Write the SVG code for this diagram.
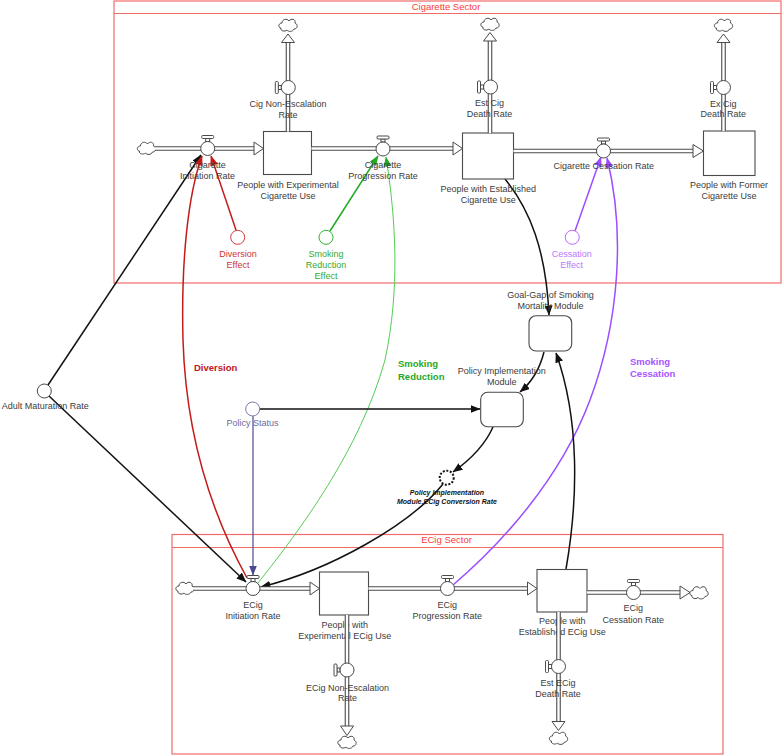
<svg xmlns="http://www.w3.org/2000/svg" width="783" height="756" viewBox="0 0 783 756">
<style>
.lbl{font-family:"Liberation Sans",Arial,sans-serif;font-size:9px;fill:#3c3c3c;text-anchor:middle}
.sec{fill:none;stroke:#f26b6b;stroke-width:1.2}
.sectitle{font-family:"Liberation Sans",Arial,sans-serif;font-size:9.5px;fill:#ff3a3a;text-anchor:middle}
.pipeO{fill:none;stroke:#4a4a4a;stroke-width:4.6}
.pipeI{fill:none;stroke:#fff;stroke-width:2.4}
.parr{fill:#fff;stroke:#4a4a4a;stroke-width:1}
.stock{fill:#fff;stroke:#4a4a4a;stroke-width:1.1}
.module{fill:#fff;stroke:#4a4a4a;stroke-width:1.1}
.cloud{fill:#fff;stroke:#4a4a4a;stroke-width:1}
.vc{fill:#fff;stroke:#4a4a4a;stroke-width:1}
.aux{fill:#fff;stroke:#4a4a4a;stroke-width:1}
.lk{fill:none;stroke:#111;stroke-width:1.5}
.bold{font-family:"Liberation Sans",Arial,sans-serif;font-size:9.5px;font-weight:bold}
</style>
<defs>
<marker id="mB" markerUnits="userSpaceOnUse" markerWidth="10" markerHeight="8" viewBox="0 0 10 8" refX="9.5" refY="4" orient="auto"><path d="M0,0 L10,4 L0,8 z" fill="#111"/></marker>
<marker id="mR" markerUnits="userSpaceOnUse" markerWidth="10" markerHeight="8" viewBox="0 0 10 8" refX="9.5" refY="4" orient="auto"><path d="M0,0 L10,4 L0,8 z" fill="#c41a1a"/></marker>
<marker id="mG" markerUnits="userSpaceOnUse" markerWidth="10" markerHeight="8" viewBox="0 0 10 8" refX="9.5" refY="4" orient="auto"><path d="M0,0 L10,4 L0,8 z" fill="#22aa22"/></marker>
<marker id="mP" markerUnits="userSpaceOnUse" markerWidth="10" markerHeight="8" viewBox="0 0 10 8" refX="9.5" refY="4" orient="auto"><path d="M0,0 L10,4 L0,8 z" fill="#9b4dff"/></marker>
<marker id="mN" markerUnits="userSpaceOnUse" markerWidth="10" markerHeight="8" viewBox="0 0 10 8" refX="9.5" refY="4" orient="auto"><path d="M0,0 L10,4 L0,8 z" fill="#4a4a90"/></marker>
<path id="cl" class="cloud" d="M-7,3 C-10,3 -10,-2 -6,-2 C-6,-6 -1,-7 1,-4 C3,-7 8,-6 7,-2 C10,-1 10,4 6,4 C5,7 0,7 -1,5 C-3,7 -8,6 -7,3 Z"/>
<g id="vH"><rect class="vc" x="-2" y="-10" width="4" height="3"/><rect class="vc" x="-6" y="-13" width="12" height="3" rx="1"/><circle class="vc" r="7"/></g>
<g id="vV"><rect class="vc" x="-10" y="-2" width="3" height="4"/><rect class="vc" x="-13" y="-6" width="3" height="12" rx="1"/><circle class="vc" r="7"/></g>
</defs>
<rect width="783" height="756" fill="#fff"/>

<g id="cigarette-sector">
<rect class="sec" x="114" y="1" width="667" height="282"/>
<line class="sec" x1="114" y1="13.5" x2="781" y2="13.5"/>
<text class="sectitle" x="446" y="10">Cigarette Sector</text>
</g>
<g id="ecig-sector">
<rect class="sec" x="172" y="534.5" width="551" height="219.5"/>
<line class="sec" x1="172" y1="547.5" x2="723" y2="547.5"/>
<text class="sectitle" x="446.5" y="543">ECig Sector</text>
</g>

<g id="connectors">
<path class="lk" d="M48,385 L201,155" marker-end="url(#mB)"/>
<path class="lk" d="M49,396 L246,582" marker-end="url(#mB)"/>
<path d="M236,230 L211,156" fill="none" stroke="#c41a1a" stroke-width="1.5" marker-end="url(#mR)"/>
<path d="M247,578 C215,520 186,440 183,340 C181,260 188,195 202,156" fill="none" stroke="#c41a1a" stroke-width="1.5" marker-end="url(#mR)"/>
<path d="M330,231 L378,156" fill="none" stroke="#22aa22" stroke-width="1.5" marker-end="url(#mG)"/>
<path d="M258,583 C300,530 360,450 385,360 C400,290 396,220 386,157" fill="none" stroke="#55cc55" stroke-width="1" marker-end="url(#mG)"/>
<path d="M575,231 L601,157" fill="none" stroke="#9b4dff" stroke-width="1.5" marker-end="url(#mP)"/>
<path d="M453,585 C500,545 560,480 590,400 C620,320 625,230 607,158" fill="none" stroke="#9b4dff" stroke-width="1.5" marker-end="url(#mP)"/>
<path class="lk" d="M505,179 C530,210 546,250 549,315" marker-end="url(#mB)"/>
<path class="lk" d="M566,569 C578,500 580,420 556,353" marker-end="url(#mB)"/>
<path class="lk" d="M544,352 C540,368 532,382 520,392" marker-end="url(#mB)"/>
<path class="lk" d="M260,409 L480,409" marker-end="url(#mB)"/>
<path d="M253,416 L253,575" fill="none" stroke="#4a4a90" stroke-width="1.2" marker-end="url(#mN)"/>
<path class="lk" d="M493,427 C485,445 470,460 453,472" marker-end="url(#mB)"/>
<path class="lk" d="M443,484 C410,525 330,570 261,587" marker-end="url(#mB)"/>
</g>

<g id="cigarette-initiation-rate">
<use href="#cl" x="146.5" y="148"/>
<path class="pipeO" d="M155,148.5 L254,148.5"/><path class="pipeI" d="M155,148.5 L254,148.5"/>
<polygon class="parr" points="254,142 263.5,148.5 254,155"/>
<use href="#vH" x="207.7" y="148.5"/>
<text class="lbl" x="207.5" y="168">Cigarette</text><text class="lbl" x="207.5" y="178.5">Initiation Rate</text>
</g>
<g id="people-experimental-cigarette">
<rect class="stock" x="263.5" y="131.5" width="48" height="43"/>
<text class="lbl" x="288" y="188">People with Experimental</text><text class="lbl" x="288" y="198.5">Cigarette Use</text>
</g>
<g id="cig-non-escalation-rate">
<path class="pipeO" d="M288,131.5 L288,42.5"/><path class="pipeI" d="M288,131.5 L288,42.5"/>
<polygon class="parr" points="281.5,42.5 288,34 294.5,42.5"/>
<use href="#cl" x="288" y="25"/>
<use href="#vV" x="288.3" y="87.5"/>
<text class="lbl" x="288" y="106.5">Cig Non-Escalation</text><text class="lbl" x="288" y="117.5">Rate</text>
</g>
<g id="cigarette-progression-rate">
<path class="pipeO" d="M311.5,148.5 L453,148.5"/><path class="pipeI" d="M311.5,148.5 L453,148.5"/>
<polygon class="parr" points="453,142 462.5,148.5 453,155"/>
<use href="#vH" x="383" y="149"/>
<text class="lbl" x="383" y="168">Cigarette</text><text class="lbl" x="383" y="178.5">Progression Rate</text>
</g>
<g id="people-established-cigarette">
<rect class="stock" x="462.5" y="133" width="51" height="46"/>
<text class="lbl" x="488.3" y="192">People with Established</text><text class="lbl" x="488.3" y="202.5">Cigarette Use</text>
</g>
<g id="est-cig-death-rate">
<path class="pipeO" d="M490,133 L490,41"/><path class="pipeI" d="M490,133 L490,41"/>
<polygon class="parr" points="483.5,41 490,32.5 496.5,41"/>
<use href="#cl" x="490" y="24"/>
<use href="#vV" x="490.5" y="87"/>
<text class="lbl" x="489.5" y="106">Est Cig</text><text class="lbl" x="489.5" y="116.5">Death Rate</text>
</g>
<g id="cigarette-cessation-rate">
<path class="pipeO" d="M513.5,151 L693,151"/><path class="pipeI" d="M513.5,151 L693,151"/>
<polygon class="parr" points="693,144.5 703.5,151 693,157.5"/>
<use href="#vH" x="603.5" y="151"/>
<text class="lbl" x="603.8" y="169">Cigarette Cessation Rate</text>
</g>
<g id="people-former-cigarette">
<rect class="stock" x="703.5" y="131" width="51.5" height="44.5"/>
<text class="lbl" x="729" y="188">People with Former</text><text class="lbl" x="729" y="199">Cigarette Use</text>
</g>
<g id="ex-cig-death-rate">
<path class="pipeO" d="M723.5,131 L723.5,42.5"/><path class="pipeI" d="M723.5,131 L723.5,42.5"/>
<polygon class="parr" points="717,42.5 723.5,34 730,42.5"/>
<use href="#cl" x="723.5" y="25"/>
<use href="#vV" x="723.5" y="87.5"/>
<text class="lbl" x="723.3" y="106.5">Ex Cig</text><text class="lbl" x="723.3" y="117">Death Rate</text>
</g>
<g id="diversion-effect">
<circle cx="237.7" cy="237.3" r="7" fill="#fff" stroke="#d03a3a" stroke-width="1"/>
<text class="lbl" x="238" y="257" style="fill:#cc3535">Diversion</text><text class="lbl" x="238" y="268" style="fill:#cc3535">Effect</text>
</g>
<g id="smoking-reduction-effect">
<circle cx="326" cy="237.3" r="7" fill="#fff" stroke="#33b033" stroke-width="1"/>
<text class="lbl" x="326" y="257" style="fill:#33aa33">Smoking</text><text class="lbl" x="326" y="268" style="fill:#33aa33">Reduction</text><text class="lbl" x="326" y="279" style="fill:#33aa33">Effect</text>
</g>
<g id="cessation-effect">
<circle cx="572.3" cy="237.3" r="7" fill="#fff" stroke="#bb66ff" stroke-width="1"/>
<text class="lbl" x="571.7" y="257" style="fill:#bb77ff">Cessation</text><text class="lbl" x="571.7" y="268" style="fill:#bb77ff">Effect</text>
</g>

<g id="goal-gap-module">
<rect class="module" x="529" y="315.7" width="42.7" height="35.3" rx="7"/>
<text class="lbl" x="550.5" y="298">Goal-Gap of Smoking</text><text class="lbl" x="550.5" y="308.5">Mortality Module</text>
</g>
<g id="policy-implementation-module">
<rect class="module" x="480.7" y="392.3" width="42.6" height="34.4" rx="7"/>
<text class="lbl" x="501.7" y="374">Policy Implementation</text><text class="lbl" x="501.7" y="384.5">Module</text>
</g>
<g id="policy-conversion-rate">
<circle cx="446.7" cy="477.7" r="7" fill="#fff" stroke="#111" stroke-width="2" stroke-dasharray="2,1.6"/>
<text x="447" y="495" style="font-family:'Liberation Sans',Arial,sans-serif;font-size:7px;font-weight:bold;font-style:italic;fill:#111;text-anchor:middle">Policy Implementation</text>
<text x="447" y="503.5" style="font-family:'Liberation Sans',Arial,sans-serif;font-size:7px;font-weight:bold;font-style:italic;fill:#111;text-anchor:middle">Module.ECig Conversion Rate</text>
</g>
<g id="adult-maturation-rate">
<circle class="aux" cx="44.3" cy="391" r="7"/>
<text class="lbl" x="45.3" y="409">Adult Maturation Rate</text>
</g>
<g id="policy-status">
<circle cx="252.7" cy="409" r="7" fill="#fff" stroke="#7a7aa8" stroke-width="1"/>
<text class="lbl" x="252.5" y="426" style="fill:#6b6b99">Policy Status</text>
</g>
<g id="link-labels">
<text class="bold" x="194" y="370.5" fill="#c0141e">Diversion</text>
<text class="bold" x="398" y="366.5" fill="#1faa1f">Smoking</text><text class="bold" x="398" y="379.5" fill="#1faa1f">Reduction</text>
<text class="bold" x="630" y="364.5" fill="#a855ff">Smoking</text><text class="bold" x="630" y="377" fill="#a855ff">Cessation</text>
</g>

<g id="ecig-initiation-rate">
<use href="#cl" x="185" y="588"/>
<path class="pipeO" d="M193,588.5 L310,588.5"/><path class="pipeI" d="M193,588.5 L310,588.5"/>
<polygon class="parr" points="310,582 319.5,588.5 310,595"/>
<use href="#vH" x="253" y="588.5"/>
<text class="lbl" x="253" y="608">ECig</text><text class="lbl" x="253" y="619">Initiation Rate</text>
</g>
<g id="people-experimental-ecig">
<rect class="stock" x="319.5" y="572" width="49" height="43"/>
<text class="lbl" x="344.7" y="627.5">People with</text><text class="lbl" x="344.7" y="638.5">Experimental ECig Use</text>
</g>
<g id="ecig-non-escalation-rate">
<path class="pipeO" d="M347,615 L347,726"/><path class="pipeI" d="M347,615 L347,726"/>
<polygon class="parr" points="340.5,726 347,735.5 353.5,726"/>
<use href="#cl" x="347" y="742"/>
<use href="#vV" x="347" y="670"/>
<text class="lbl" x="347.5" y="690.5">ECig Non-Escalation</text><text class="lbl" x="347.5" y="701">Rate</text>
</g>
<g id="ecig-progression-rate">
<path class="pipeO" d="M368.5,588.5 L527.5,588.5"/><path class="pipeI" d="M368.5,588.5 L527.5,588.5"/>
<polygon class="parr" points="527.5,582 537,588.5 527.5,595"/>
<use href="#vH" x="447.5" y="588.5"/>
<text class="lbl" x="447.3" y="608">ECig</text><text class="lbl" x="447.3" y="619">Progression Rate</text>
</g>
<g id="people-established-ecig">
<rect class="stock" x="537" y="569.5" width="50" height="42.5"/>
<text class="lbl" x="562.2" y="624.3">People with</text><text class="lbl" x="562.2" y="634.7">Established ECig Use</text>
</g>
<g id="ecig-cessation-rate">
<path class="pipeO" d="M587,592.5 L680,592.5"/><path class="pipeI" d="M587,592.5 L680,592.5"/>
<polygon class="parr" points="680,586 690,592.5 680,599"/>
<use href="#cl" x="699" y="592.5"/>
<use href="#vH" x="633.5" y="592.5"/>
<text class="lbl" x="633.3" y="611.3">ECig</text><text class="lbl" x="633.3" y="622.5">Cessation Rate</text>
</g>
<g id="est-ecig-death-rate">
<path class="pipeO" d="M558.5,612 L558.5,721.5"/><path class="pipeI" d="M558.5,612 L558.5,721.5"/>
<polygon class="parr" points="552,721.5 558.5,730.5 565,721.5"/>
<use href="#cl" x="558.5" y="738"/>
<use href="#vV" x="558.5" y="666.5"/>
<text class="lbl" x="558" y="685.5">Est ECig</text><text class="lbl" x="558" y="696.5">Death Rate</text>
</g>
</svg>
